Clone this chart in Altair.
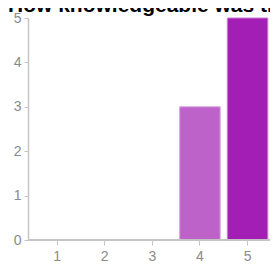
import altair as alt
import pandas as pd

categories = ["1", "2", "3", "4", "5"]
counts = [0, 0, 0, 3, 5]
bar_colors = ["#bd62c9", "#bd62c9", "#bd62c9", "#bd62c9", "#a21eb5"]
edge_colors = ["#d9a2e0", "#d9a2e0", "#d9a2e0", "#d9a2e0", "#c97dd4"]
y_ticks = [0, 1, 2, 3, 4, 5]
title_text = "How knowledgeable was the expert?"

df = pd.DataFrame({"cat": categories, "count": counts,
                   "color": bar_colors, "edge": edge_colors})

W, H = 242, 222

x_enc = alt.X("cat:O", sort=categories,
              scale=alt.Scale(domain=categories, paddingInner=0.15, paddingOuter=0,
                              range=[8.8, 239.8]),
              axis=alt.Axis(title=None, labelAngle=0, labelFontSize=14, labelColor="#8a8a8a",
                            labelFont="Liberation Sans", domain=False, tickColor="#c4c4c4",
                            tickSize=5, labelPadding=4))

bars = alt.Chart(df).transform_filter("datum.count > 0").mark_bar(strokeWidth=1).encode(
    x=x_enc,
    y=alt.Y("count:Q", scale=alt.Scale(domain=[0, 5], nice=False),
            axis=alt.Axis(title=None, values=y_ticks, grid=False, labelFontSize=14,
                          labelColor="#8a8a8a", labelFont="Liberation Sans",
                          domainColor="#c4c4c4", tickColor="#c4c4c4", tickSize=4,
                          labelPadding=3, domainWidth=1.5)),
    color=alt.Color("color:N", scale=None),
    stroke=alt.Stroke("edge:N", scale=None),
)

baseline = alt.Chart(df).mark_rule(color="#c4c4c4", strokeWidth=1.5).encode(
    x=alt.value(0), x2=alt.value(W), y=alt.value(H)
)

title = alt.Chart(pd.DataFrame({"t": [title_text]})).mark_text(
    align="left", baseline="alphabetic", fontSize=21, fontWeight="bold",
    font="Liberation Sans", color="#000000"
).encode(text="t:N", x=alt.value(-20), y=alt.value(-6))

chart = alt.layer(bars, baseline, title).properties(
    width=W, height=H,
    padding={"left": 20, "top": 10, "right": 0, "bottom": 22},
    autosize=alt.AutoSizeParams(type="none"),
).configure_view(stroke=None)

chart.save("out.html", embed_options={"renderer": "svg", "actions": False})
